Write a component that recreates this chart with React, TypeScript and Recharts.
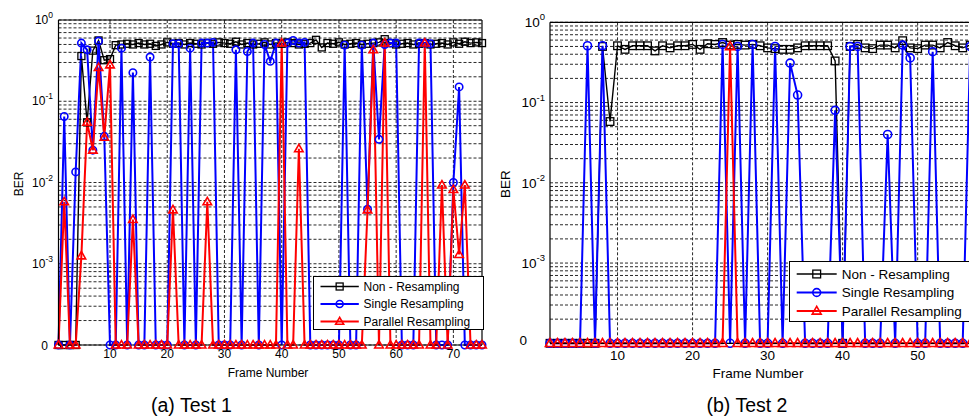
import React from 'react';
import { LineChart, Line, XAxis, YAxis, CartesianGrid, ReferenceLine } from 'recharts';

// ---------- data ----------
const framesTest1 = [
  1, 2, 3, 4, 5, 6, 7, 8, 9, 10, 11, 12, 13, 14, 15, 16, 17, 18, 19, 20,
  21, 22, 23, 24, 25, 26, 27, 28, 29, 30, 31, 32, 33, 34, 35, 36, 37, 38, 39, 40,
  41, 42, 43, 44, 45, 46, 47, 48, 49, 50, 51, 52, 53, 54, 55, 56, 57, 58, 59, 60,
  61, 62, 63, 64, 65, 66, 67, 68, 69, 70, 71, 72, 73, 74, 75,
];
const nonResamplingTest1 = [
  0, 0, 0, 0, 0.36, 0.055, 0.42, 0.56, 0.32, 0.33,
  0.49, 0.5, 0.51, 0.5, 0.52, 0.5, 0.51, 0.48, 0.5, 0.53,
  0.51, 0.52, 0.5, 0.52, 0.51, 0.5, 0.52, 0.51, 0.53, 0.52,
  0.51, 0.54, 0.5, 0.52, 0.5, 0.51, 0.53, 0.5, 0.52, 0.51,
  0.53, 0.52, 0.5, 0.51, 0.52, 0.57, 0.46, 0.52, 0.51, 0.53,
  0.5, 0.51, 0.52, 0.5, 0.51, 0.52, 0.53, 0.58, 0.52, 0.5,
  0.51, 0.52, 0.5, 0.51, 0.52, 0.5, 0.51, 0.52, 0.5, 0.53,
  0.51, 0.54, 0.52, 0.53, 0.52,
];
const singleResamplingTest1 = [
  0, 0.065, 0, 0.0135, 0.52, 0.43, 0.025, 0.55, 0.037, 0,
  0, 0.45, 0, 0.225, 0, 0, 0.35, 0, 0, 0,
  0.51, 0.51, 0, 0.45, 0, 0.52, 0.52, 0.53, 0, 0,
  0, 0.43, 0, 0.41, 0.52, 0, 0.5, 0.31, 0.52, 0,
  0.52, 0.56, 0.52, 0.53, 0, 0, 0, 0, 0, 0,
  0.49, 0, 0, 0.49, 0.0047, 0.52, 0.034, 0.5, 0.52, 0.52,
  0, 0, 0, 0.52, 0.52, 0.51, 0, 0, 0, 0.01,
  0.15, 0, 0, 0, 0,
];
const parallelResamplingTest1 = [
  0, 0.0058, 0, 0, 0.00125, 0.055, 0.025, 0.26, 0.036, 0.28,
  0, 0, 0, 0.0035, 0, 0, 0, 0, 0, 0,
  0.0046, 0, 0, 0, 0, 0, 0.0058, 0, 0, 0,
  0, 0, 0, 0, 0, 0, 0, 0, 0, 0.52,
  0, 0, 0.026, 0, 0, 0, 0, 0, 0, 0,
  0, 0, 0, 0, 0.0046, 0.43, 0, 0.52, 0, 0,
  0, 0, 0, 0, 0.52, 0, 0, 0.0093, 0, 0.0082,
  0.0013, 0.0093, 0, 0, 0,
];

const framesTest2 = [
  1, 2, 3, 4, 5, 6, 7, 8, 9, 10, 11, 12, 13, 14, 15, 16, 17, 18, 19, 20,
  21, 22, 23, 24, 25, 26, 27, 28, 29, 30, 31, 32, 33, 34, 35, 36, 37, 38, 39, 40,
  41, 42, 43, 44, 45, 46, 47, 48, 49, 50, 51, 52, 53, 54, 55, 56, 57, 58,
];
const nonResamplingTest2 = [
  0, 0, 0, 0, 0, 0, 0, 0.5, 0.058, 0.51,
  0.46, 0.51, 0.51, 0.51, 0.44, 0.51, 0.48, 0.51, 0.51, 0.53,
  0.46, 0.54, 0.53, 0.56, 0.52, 0.53, 0.52, 0.53, 0.51, 0.48,
  0.47, 0.46, 0.46, 0.48, 0.51, 0.51, 0.51, 0.51, 0.33, 0,
  0.5, 0.53, 0.48, 0.47, 0.52, 0.52, 0.48, 0.59, 0.48, 0.47,
  0.52, 0.52, 0.48, 0.56, 0.51, 0.48, 0.52, 0.52,
];
const singleResamplingTest2 = [
  0, 0, 0, 0, 0, 0.51, 0, 0.51, 0, 0,
  0, 0, 0, 0, 0, 0, 0, 0, 0, 0,
  0, 0, 0, 0.53, 0, 0.5, 0, 0.53, 0, 0,
  0.5, 0, 0.31, 0.124, 0, 0, 0, 0, 0.08, 0,
  0.5, 0.5, 0, 0, 0, 0.04, 0, 0.52, 0.36, 0,
  0, 0.43, 0, 0, 0, 0, 0.5, 0,
];
const parallelResamplingTest2 = [
  0, 0, 0, 0, 0, 0, 0, 0, 0, 0,
  0, 0, 0, 0, 0, 0, 0, 0, 0, 0,
  0, 0, 0, 0, 0.5, 0, 0, 0, 0, 0,
  0, 0, 0, 0, 0, 0, 0, 0, 0, 0,
  0, 0, 0, 0, 0, 0, 0, 0, 0, 0,
  0, 0, 0, 0, 0, 0, 0, 0,
];

const seriesNames = ['Non - Resampling', 'Single Resampling', 'Parallel Resampling'];
const seriesColors = ['#000000', '#0000ff', '#ff0000'];
const seriesMarkers = ['square', 'circle', 'triangle'];
const seriesWidths = [1.4, 2, 2];

const yTickValues = [0.0001, 0.001, 0.01, 0.1, 1];
const yTickExponents = ['', '-3', '-2', '-1', '0'];
const xTicksTest1 = [10, 20, 30, 40, 50, 60, 70];
const xTicksTest2 = [10, 20, 30, 40, 50];
const gridMultipliers = [1, 2, 3, 4, 5, 6, 7, 8, 9];
const gridDecades = [0.0001, 0.001, 0.01, 0.1];
const ZERO_FLOOR = 0.0001;

const FONT = "'Liberation Sans', Arial, Helvetica, sans-serif";
const gridValues: number[] = [];
gridDecades.forEach((d) => gridMultipliers.forEach((m) => gridValues.push(+(m * d).toPrecision(3))));
gridValues.push(1);

const toPlot = (v: number) => (v === 0 ? ZERO_FLOOR : v);

function Marker({ shape, cx, cy, color, size }: any) {
  if (cx == null || cy == null || isNaN(cx) || isNaN(cy)) return <g />;
  if (shape === 'square') {
    return (
      <rect x={cx - size / 2} y={cy - size / 2} width={size} height={size} fill="none" stroke={color} strokeWidth={1.3} />
    );
  }
  if (shape === 'circle') {
    return <circle cx={cx} cy={cy} r={size / 2} fill="none" stroke={color} strokeWidth={1.6} />;
  }
  const h = size;
  const w = size * 1.15;
  return (
    <polygon
      points={`${cx},${cy - h * 0.6} ${cx - w / 2},${cy + h * 0.4} ${cx + w / 2},${cy + h * 0.4}`}
      fill="none"
      stroke={color}
      strokeWidth={1.6}
      strokeLinejoin="miter"
    />
  );
}

type PanelCfg = {
  id: string;
  left: number;
  width: number;
  height: number;
  margin: { top: number; right: number; bottom: number; left: number };
  yAxisWidth: number;
  xMax: number;
  xTicks: number[];
  frames: number[];
  series: number[][];
  fontSize: number;
  supSize: number;
  xTickCenterDy: number;
  yTickGap: number;
  zeroDx: number;
  zeroDy: number;
  markerSize: number;
};

function Panel({ cfg }: { cfg: PanelCfg }) {
  const rows = cfg.frames.map((f, i) => ({
    frame: f,
    s0: toPlot(cfg.series[0][i]),
    s1: toPlot(cfg.series[1][i]),
    s2: toPlot(cfg.series[2][i]),
  }));

  const renderXTick = (props: any) => {
    const { x, y, payload } = props;
    return (
      <text
        x={x}
        y={y + cfg.xTickCenterDy + cfg.fontSize * 0.35}
        textAnchor="middle"
        fontSize={cfg.fontSize}
        fontFamily={FONT}
        fill="#000"
      >
        {payload.value}
      </text>
    );
  };

  const renderYTick = (props: any) => {
    const { x, y, payload } = props;
    const idx = yTickValues.findIndex((v) => Math.abs(v - payload.value) < v * 1e-6);
    const exp = idx >= 0 ? yTickExponents[idx] : '';
    if (exp === '') {
      return (
        <text
          x={x - cfg.zeroDx}
          y={y + cfg.zeroDy + cfg.fontSize * 0.35}
          textAnchor="end"
          fontSize={cfg.fontSize}
          fontFamily={FONT}
          fill="#000"
        >
          0
        </text>
      );
    }
    return (
      <text
        x={x - cfg.yTickGap}
        y={y + cfg.fontSize * 0.35}
        textAnchor="end"
        fontSize={cfg.fontSize}
        fontFamily={FONT}
        fill="#000"
      >
        <tspan>10</tspan>
        <tspan dy={-cfg.fontSize * 0.5} fontSize={cfg.supSize}>
          {exp}
        </tspan>
      </text>
    );
  };

  return (
    <div style={{ position: 'absolute', left: cfg.left, top: 0 }}>
      <LineChart width={cfg.width} height={cfg.height} data={rows} margin={cfg.margin}>
        <CartesianGrid
          horizontalValues={gridValues}
          verticalValues={cfg.xTicks}
          stroke="#2a2a2a"
          strokeWidth={1}
          strokeDasharray="3 2"
          fill="none"
        />
        <XAxis
          dataKey="frame"
          type="number"
          domain={[1, cfg.xMax]}
          ticks={cfg.xTicks}
          interval={0}
          tickSize={0}
          tickMargin={0}
          height={30}
          axisLine={{ stroke: '#000', strokeWidth: 1.2 }}
          tickLine={false}
          tick={renderXTick}
        />
        <YAxis
          type="number"
          scale="log"
          domain={[0.0001, 1]}
          ticks={yTickValues}
          interval={0}
          width={cfg.yAxisWidth}
          tickSize={0}
          tickMargin={0}
          axisLine={{ stroke: '#000', strokeWidth: 1.2 }}
          tickLine={false}
          tick={renderYTick}
        />
        <ReferenceLine y={1} stroke="#000" strokeWidth={1.2} />
        <ReferenceLine x={cfg.xMax} stroke="#000" strokeWidth={1.2} />
        {[0, 1, 2].map((k) => (
          <Line
            key={`${cfg.id}-s${k}`}
            type="linear"
            dataKey={`s${k}`}
            name={seriesNames[k]}
            stroke={seriesColors[k]}
            strokeWidth={seriesWidths[k]}
            isAnimationActive={false}
            activeDot={false}
            dot={(dp: any) => (
              <Marker
                key={`${cfg.id}-m${k}-${dp.index}`}
                shape={seriesMarkers[k]}
                cx={dp.cx}
                cy={dp.cy}
                color={seriesColors[k]}
                size={k === 0 ? cfg.markerSize * 0.95 : cfg.markerSize}
              />
            )}
          />
        ))}
      </LineChart>
    </div>
  );
}

function LegendBox({ left, top, width, height, rows, fontSize, lineX1, lineX2, textX, markerSize }: any) {
  return (
    <svg
      style={{ position: 'absolute', left, top, overflow: 'visible' }}
      width={width}
      height={height}
    >
      <rect x={0.5} y={0.5} width={width - 1} height={height - 1} fill="#fff" stroke="#000" strokeWidth={1} />
      {seriesNames.map((name, k) => (
        <g key={name}>
          <line x1={lineX1} x2={lineX2} y1={rows[k]} y2={rows[k]} stroke={seriesColors[k]} strokeWidth={seriesWidths[k]} />
          <Marker
            shape={seriesMarkers[k]}
            cx={(lineX1 + lineX2) / 2}
            cy={rows[k]}
            color={seriesColors[k]}
            size={markerSize}
          />
          <text x={textX} y={rows[k] + fontSize * 0.36} fontSize={fontSize} fontFamily={FONT} fill="#000">
            {name}
          </text>
        </g>
      ))}
    </svg>
  );
}

const panel1: PanelCfg = {
  id: 't1',
  left: 0,
  width: 500,
  height: 400,
  margin: { top: 20, right: 18, bottom: 25, left: 0 },
  yAxisWidth: 58.5,
  xMax: 75,
  xTicks: xTicksTest1,
  frames: framesTest1,
  series: [nonResamplingTest1, singleResamplingTest1, parallelResamplingTest1],
  fontSize: 12,
  supSize: 8.5,
  xTickCenterDy: 9,
  yTickGap: 5.5,
  zeroDx: 10.5,
  zeroDy: 1,
  markerSize: 7.4,
};

const panel2: PanelCfg = {
  id: 't2',
  left: 490,
  width: 500,
  height: 400,
  margin: { top: 22.3, right: 12.3, bottom: 26.7, left: 0 },
  yAxisWidth: 60,
  xMax: 58,
  xTicks: xTicksTest2,
  frames: framesTest2,
  series: [nonResamplingTest2, singleResamplingTest2, parallelResamplingTest2],
  fontSize: 13.5,
  supSize: 9.5,
  xTickCenterDy: 11.7,
  yTickGap: 5,
  zeroDx: 23,
  zeroDy: -2.6,
  markerSize: 8,
};

export default function App() {
  return (
    <div
      style={{
        position: 'absolute',
        left: 0,
        top: 0,
        width: 969,
        height: 420,
        overflow: 'hidden',
        background: '#fff',
      }}
    >
      <Panel cfg={panel1} />
      <Panel cfg={panel2} />
      <LegendBox
        left={312.5}
        top={276}
        width={171}
        height={54}
        rows={[10.5, 28, 45.5]}
        fontSize={12}
        lineX1={7.5}
        lineX2={45.8}
        textX={50.5}
        markerSize={7}
      />
      <LegendBox
        left={789}
        top={261}
        width={190}
        height={61}
        rows={[13, 31.5, 50]}
        fontSize={13.5}
        lineX1={7.7}
        lineX2={47.7}
        textX={52.7}
        markerSize={7.8}
      />
      <svg style={{ position: 'absolute', left: 0, top: 0, pointerEvents: 'none' }} width={969} height={420}>
        <text x={268} y={377.3} textAnchor="middle" fontSize={12} fontFamily={FONT} fill="#000">
          Frame Number
        </text>
        <text x={758} y={377.8} textAnchor="middle" fontSize={13.5} fontFamily={FONT} fill="#000">
          Frame Number
        </text>
        <text
          x={22.5}
          y={184}
          textAnchor="middle"
          fontSize={12}
          fontFamily={FONT}
          fill="#000"
          transform="rotate(-90 22.5 184)"
        >
          BER
        </text>
        <text
          x={509.7}
          y={184}
          textAnchor="middle"
          fontSize={13.5}
          fontFamily={FONT}
          fill="#000"
          transform="rotate(-90 509.7 184)"
        >
          BER
        </text>
        <text x={191.5} y={412} textAnchor="middle" fontSize={19.5} fontFamily={FONT} fill="#000">
          (a) Test 1
        </text>
        <text x={747} y={412} textAnchor="middle" fontSize={19.5} fontFamily={FONT} fill="#000">
          (b) Test 2
        </text>
      </svg>
    </div>
  );
}
